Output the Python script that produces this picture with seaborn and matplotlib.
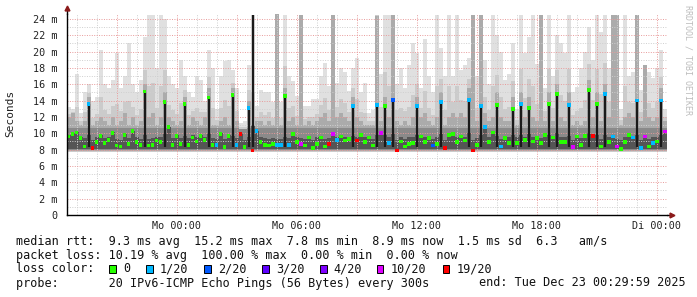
import numpy as np
import pandas as pd
import matplotlib
matplotlib.use("Agg")
import matplotlib.pyplot as plt
from matplotlib.patches import Rectangle
import seaborn as sns

# ---------------- data ----------------
STEP_H = 0.2          # hours per sample column (12 min)
SMOKE_MIN_MS = 7.7    # lowest ping of the smoke

median_ms = [
    9.6, 9.9, 10.1, 9.4, 8.4, 13.6, 8.2, 8.9, 9.7, 8.8,
    9.2, 10.0, 8.5, 8.4, 9.8, 8.7, 10.3, 8.9, 8.6, 15.1,
    8.5, 8.6, 9.1, 8.9, 13.8, 10.8, 8.6, 9.7, 8.7, 13.6,
    8.6, 9.5, 9.0, 9.7, 9.2, 14.4, 8.6, 8.6, 9.9, 8.3,
    9.7, 14.7, 8.6, 9.9, 8.3, 13.1, 7.9, 10.3, 8.9, 8.6,
    8.5, 8.7, 8.6, 8.6, 14.6, 8.6, 9.9, 8.9, 8.7, 8.5,
    9.5, 8.2, 8.7, 9.5, 8.4, 8.7, 9.9, 9.2, 9.6, 9.1,
    9.3, 13.3, 9.1, 9.8, 8.9, 9.5, 8.5, 13.5, 10.0, 13.3,
    8.8, 14.1, 7.9, 9.0, 8.4, 8.7, 8.8, 13.3, 9.6, 8.9,
    9.4, 8.5, 8.7, 13.8, 8.2, 9.8, 9.9, 8.9, 9.6, 9.1,
    14.1, 7.9, 8.6, 13.3, 10.8, 8.9, 10.1, 13.5, 8.4, 9.4,
    8.8, 13.0, 8.8, 13.6, 9.2, 13.1, 9.0, 9.4, 8.8, 9.8,
    13.6, 9.5, 14.8, 8.9, 8.9, 13.5, 8.3, 9.6, 8.6, 9.7,
    15.3, 9.7, 13.6, 8.4, 14.8, 8.9, 9.6, 8.4, 8.1, 8.9,
    9.8, 9.5, 14.0, 8.2, 9.6, 8.4, 8.8, 9.0, 14.0, 10.2,
]

loss_n = [
    0, 0, 0, 0, 0, 1, 19, 0, 0, 0,
    0, 0, 0, 0, 0, 0, 0, 0, 0, 0,
    0, 0, 0, 0, 0, 0, 0, 0, 0, 0,
    0, 0, 0, 0, 0, 0, 0, 1, 0, 0,
    0, 0, 1, 19, 0, 1, 19, 1, 0, 0,
    0, 0, 1, 1, 0, 1, 0, 0, 10, 0,
    0, 0, 0, 0, 0, 19, 10, 1, 0, 0,
    0, 1, 19, 0, 0, 0, 0, 1, 10, 0,
    1, 2, 19, 0, 0, 0, 0, 1, 0, 0,
    0, 2, 0, 1, 19, 0, 0, 0, 0, 0,
    1, 19, 0, 1, 1, 0, 0, 0, 1, 0,
    0, 0, 0, 1, 0, 0, 0, 0, 0, 0,
    0, 0, 0, 0, 0, 1, 10, 0, 0, 0,
    0, 19, 0, 0, 1, 0, 1, 10, 0, 0,
    0, 1, 1, 1, 10, 0, 1, 0, 1, 10,
]

smoke_max_ms = [
    13.2, 13.0, 17.3, 12.5, 15.0, 16.0, 14.0, 14.5, 20.2, 16.0,
    15.5, 16.5, 19.8, 15.5, 17.0, 21.0, 16.0, 15.0, 16.5, 21.8,
    24.5, 24.5, 18.0, 24.5, 24.0, 17.0, 16.0, 15.5, 19.0, 17.0,
    15.0, 14.5, 17.0, 16.5, 14.0, 20.2, 18.0, 13.0, 17.0, 18.8,
    19.0, 17.8, 15.5, 11.3, 11.5, 18.4, 24.5, 13.3, 15.3, 15.0,
    15.0, 13.8, 24.6, 13.8, 24.5, 17.0, 16.4, 14.6, 24.5, 13.3,
    13.3, 14.2, 14.2, 17.0, 18.6, 15.8, 24.5, 16.1, 18.0, 17.5,
    15.2, 18.0, 19.2, 15.0, 16.1, 12.5, 12.8, 24.5, 17.3, 24.5,
    24.5, 24.5, 16.0, 18.0, 15.6, 18.4, 21.0, 19.8, 15.6, 21.6,
    17.0, 15.1, 24.5, 20.5, 17.0, 24.5, 17.0, 24.5, 17.8, 18.4,
    19.2, 24.5, 17.0, 24.5, 19.0, 16.0, 24.5, 22.0, 20.0, 16.5,
    17.3, 21.0, 13.0, 24.5, 19.8, 21.8, 24.5, 18.5, 24.5, 15.5,
    24.5, 17.0, 22.0, 21.0, 19.8, 24.5, 15.0, 15.7, 18.0, 20.0,
    23.0, 19.0, 24.5, 22.4, 24.5, 18.0, 19.0, 24.5, 13.0, 24.5,
    17.0, 17.5, 24.5, 15.3, 18.4, 17.5, 16.8, 18.0, 20.2, 13.0,
]

smoke_mid_ms = [
    12.0, 12.5, 11.5, 11.0, 11.5, 14.5, 11.0, 11.5, 12.0, 11.5,
    11.0, 12.0, 11.0, 11.5, 12.5, 11.0, 12.0, 11.0, 11.5, 16.0,
    12.0, 12.5, 11.0, 12.0, 15.0, 12.0, 11.5, 11.0, 11.5, 14.5,
    11.0, 12.0, 11.5, 11.0, 12.0, 15.5, 11.0, 11.0, 11.5, 12.0,
    11.0, 15.5, 11.5, 10.5, 10.5, 14.0, 11.0, 11.5, 11.5, 11.0,
    11.5, 11.0, 24.6, 11.0, 15.5, 11.5, 12.0, 11.0, 24.5, 11.0,
    11.5, 11.0, 11.5, 12.0, 12.5, 11.5, 24.5, 12.0, 12.5, 12.0,
    11.5, 14.5, 12.0, 11.5, 11.0, 11.0, 11.0, 24.4, 11.5, 14.5,
    12.0, 24.5, 11.5, 11.0, 11.5, 11.0, 12.0, 14.5, 12.0, 12.5,
    11.5, 11.0, 12.0, 15.0, 11.0, 12.0, 12.5, 12.0, 12.5, 12.0,
    15.5, 24.5, 11.5, 24.5, 12.5, 11.5, 12.0, 15.0, 12.0, 11.5,
    11.5, 14.5, 11.0, 15.0, 12.0, 14.5, 12.0, 11.5, 24.5, 11.5,
    15.0, 11.5, 16.0, 12.0, 11.5, 15.0, 11.0, 11.5, 11.0, 11.5,
    16.5, 12.0, 15.0, 11.5, 16.0, 12.0, 24.5, 24.5, 11.0, 12.0,
    12.5, 12.0, 24.5, 11.5, 18.4, 12.0, 11.5, 12.0, 15.5, 11.5,
]

smoke_core_ms = [
    9.8, 10.0, 10.2, 9.6, 9.4, 9.8, 9.2, 9.5, 9.8, 9.4,
    9.6, 10.1, 9.3, 9.2, 10.0, 9.4, 10.3, 9.5, 9.3, 9.8,
    9.3, 9.4, 9.6, 9.5, 9.9, 10.8, 9.4, 9.8, 9.4, 9.7,
    9.4, 9.8, 9.6, 9.8, 9.6, 9.9, 9.4, 9.3, 10.0, 9.3,
    9.8, 9.7, 9.4, 10.0, 9.2, 9.6, 24.5, 10.3, 9.5, 9.4,
    9.3, 9.4, 9.3, 9.3, 9.6, 9.4, 10.0, 9.5, 9.4, 9.3,
    9.7, 9.2, 9.5, 9.7, 9.3, 9.4, 10.0, 9.6, 9.8, 9.6,
    9.6, 9.7, 9.6, 9.9, 9.5, 9.7, 9.3, 9.8, 10.1, 9.8,
    9.5, 9.9, 9.2, 9.6, 9.3, 9.5, 9.5, 9.8, 9.8, 9.5,
    9.7, 9.3, 9.5, 9.9, 9.2, 10.0, 10.0, 9.5, 9.8, 9.6,
    10.0, 9.2, 9.4, 9.8, 10.8, 9.5, 10.2, 9.7, 9.3, 9.7,
    9.5, 9.8, 9.5, 9.8, 9.6, 9.9, 9.5, 9.7, 9.4, 9.9,
    9.8, 9.7, 10.0, 9.5, 9.5, 9.7, 9.2, 9.8, 9.4, 9.9,
    10.0, 9.9, 9.8, 9.3, 9.8, 9.5, 9.8, 9.3, 9.2, 9.5,
    9.9, 9.7, 9.8, 9.2, 9.8, 9.3, 9.5, 9.6, 9.8, 10.3,
]

x_label_hours = [5.5, 11.5, 17.5, 23.5, 29.5]
x_labels = ["Mo 00:00", "Mo 06:00", "Mo 12:00", "Mo 18:00", "Di 00:00"]
y_ticks = list(range(0, 25, 2))
y_labels = ["0"] + [f"{v} m" for v in y_ticks[1:]]

loss_levels = [0, 1, 2, 3, 4, 10, 19]
loss_names = ["0", "1/20", "2/20", "3/20", "4/20", "10/20", "19/20"]
loss_colors = ["#26ff00", "#00b8ff", "#0059ff", "#5e00ff", "#7e00ff", "#dd00ff", "#ff0000"]

stats_line1 = "median rtt:  9.3 ms avg  15.2 ms max  7.8 ms min  8.9 ms now  1.5 ms sd  6.3   am/s"
stats_line2 = "packet loss: 10.19 % avg  100.00 % max  0.00 % min  0.00 % now"
probe_line = "probe:       20 IPv6-ICMP Echo Pings (56 Bytes) every 300s"
end_text = "end: Tue Dec 23 00:29:59 2025"

# ---------------- figure ----------------
sns.set_style("white")
plt.rcParams["font.family"] = ["DejaVu Sans Mono", "DejaVu Sans"]

W, H = 697, 297
fig = plt.figure(figsize=(W / 100, H / 100), dpi=100)
fig.patch.set_facecolor("white")
ax = fig.add_axes([66.5 / W, (H - 215) / H, (667 - 66.5) / W, 201 / H])
ax.set_facecolor("white")

n = len(median_ms)
edges = np.arange(n + 1) * STEP_H
centers = edges[:-1] + STEP_H / 2


def ext(a):
    a = np.asarray(a, float)
    return np.append(a, a[-1])


med = np.asarray(median_ms, float)
hi = np.asarray(smoke_max_ms, float)
mid = np.asarray(smoke_mid_ms, float)
core = np.asarray(smoke_core_ms, float)

# smoke layers, outer (light) to inner (dark)
ax.fill_between(edges, SMOKE_MIN_MS, ext(hi), step="post", color="#e0e0e0", lw=0, zorder=1)
ax.fill_between(edges, SMOKE_MIN_MS, ext(mid + (hi - mid) * 0.3), step="post",
                color="#cbcbcb", lw=0, zorder=1.05)
ax.fill_between(edges, SMOKE_MIN_MS + 0.1, ext(mid), step="post", color="#ababab", lw=0, zorder=1.1)
ax.fill_between(edges, SMOKE_MIN_MS + 0.2, ext(np.minimum(mid, 10.7)), step="post",
                color="#8a8a8a", lw=0, zorder=1.2)
ax.fill_between(edges, SMOKE_MIN_MS + 0.4, ext(np.minimum(core, 10.9)), step="post",
                color="#555555", lw=0, zorder=1.3)

# grid (rrdtool draws it over the smoke)
for h in np.arange(0.5, 30, 1.0):
    major = abs(((h - 2.5) / 3) - round((h - 2.5) / 3)) < 1e-6
    ax.axvline(h, color="#e89a9a" if major else "#cfcfcf", lw=0.7,
               ls=(0, (1, 1.5)), zorder=2)
for v in range(1, 25):
    ax.axhline(v, color="#e89a9a" if v % 2 == 0 else "#cfcfcf", lw=0.7,
               ls=(0, (1, 1.5)), zorder=2)

# dark spikes where the median (or the dense core) jumps up
spike_top = np.maximum(core, med)
tall = spike_top > 10.9
ax.vlines(centers[tall], SMOKE_MIN_MS + 0.6, spike_top[tall], color="#1a1a1a",
          lw=1.6, zorder=3)

# median coloured by loss
df = pd.DataFrame({"t": centers, "median": med, "loss": loss_n})
pal = dict(zip(loss_levels, loss_colors))
sns.scatterplot(data=df, x="t", y="median", hue="loss", palette=pal, marker="s",
                s=7, linewidth=0, legend=False, ax=ax, zorder=4)

ax.set_xlim(0, 30)
ax.set_ylim(0, 24.6)
ax.set_xlabel("")
ax.set_ylabel("")
ax.set_xticks(x_label_hours)
ax.set_xticklabels(x_labels)
ax.set_xticks(np.arange(0.5, 30, 1.0), minor=True)
ax.set_yticks(y_ticks)
ax.set_yticklabels(y_labels)
ax.set_yticks(range(1, 25, 2), minor=True)
ax.tick_params(axis="both", which="major", length=3, width=0.8, color="black",
               labelsize=7.3, labelcolor="#222222", direction="out")
ax.tick_params(axis="both", which="minor", length=2, width=0.6, color="black", direction="out")
ax.tick_params(axis="x", which="major", pad=1.5)
ax.tick_params(axis="y", which="major", pad=3.5)
for s in ["top", "right"]:
    ax.spines[s].set_visible(False)
for s in ["left", "bottom"]:
    ax.spines[s].set_color("black")
    ax.spines[s].set_linewidth(1.0)
    ax.spines[s].set_zorder(5)

# axis arrows
ax.plot([0, 0], [24.6, 25.2], color="black", lw=1.0, clip_on=False, zorder=5)
ax.plot([30, 30.2], [0, 0], color="black", lw=1.0, clip_on=False, zorder=5)
ax.plot([0], [25.35], marker="^", ms=3.5, color="#8b1a1a", clip_on=False, zorder=6)
ax.plot([30.25], [0], marker=">", ms=3.5, color="#8b1a1a", clip_on=False, zorder=6)

# y-axis title and watermark
fig.text(10.5 / W, 1 - 113 / H, "Seconds", rotation=90, ha="center", va="center",
         fontsize=8, color="#222222")
fig.text(688 / W, 1 - 60 / H, "RRDTOOL / TOBI OETIKER", rotation=270, ha="center",
         va="center", fontsize=6, color="#bdbdbd")

# legend / stats text
FS = 8.45


def ftext(x, y, s):
    fig.text(x / W, 1 - y / H, s, ha="left", va="center", fontsize=FS, color="#111111")


ftext(16, 241, stats_line1)
ftext(16, 255, stats_line2)
ftext(16, 269, "loss color:")
box_x = [109, 146, 204, 262, 320, 377, 443]
txt_x = [123, 160, 218, 276, 333, 391, 457]
for c, name, bx, tx in zip(loss_colors, loss_names, box_x, txt_x):
    fig.patches.append(Rectangle((bx / W, 1 - 273 / H), 6.5 / W, 8 / H,
                                 transform=fig.transFigure, facecolor=c,
                                 edgecolor="black", lw=0.7))
    ftext(tx, 269, name)
ftext(16, 283, probe_line)
ftext(479, 283, end_text)

fig.savefig("out.png", dpi=100, facecolor="white")
